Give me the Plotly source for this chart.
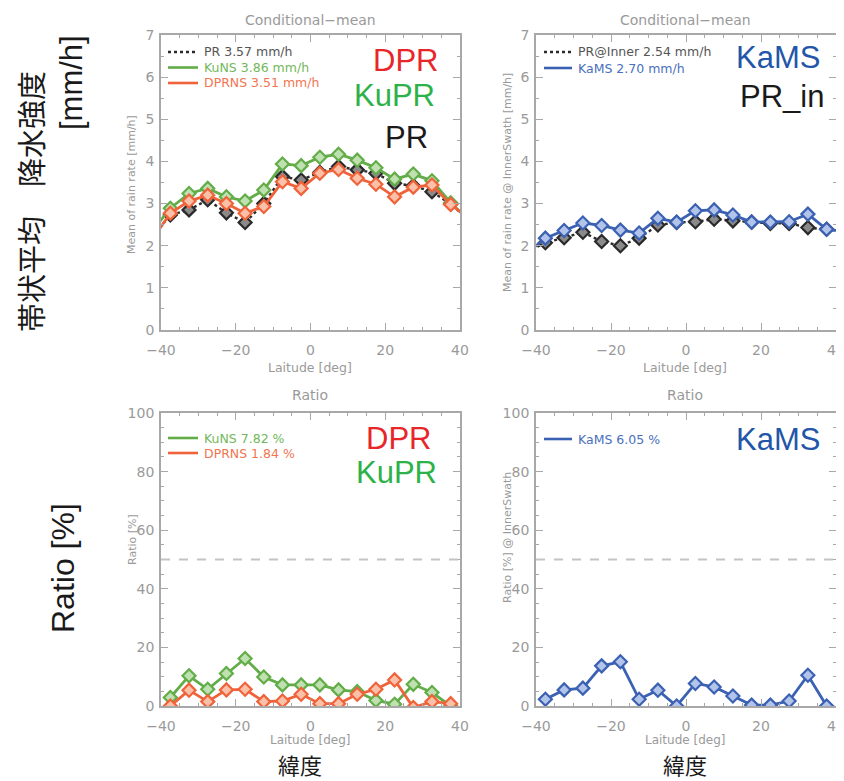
import plotly.graph_objects as go

# page body has an 8px margin: the figure is drawn at (8, 8) in the window
OFF = 8
W, H = 844 - OFF, 781 - OFF

# ---------------- data ----------------
lat_ext = [-42.5, -37.5, -32.5, -27.5, -22.5, -17.5, -12.5, -7.5, -2.5,
           2.5, 7.5, 12.5, 17.5, 22.5, 27.5, 32.5, 37.5, 42.5]
lat = lat_ext[1:-1]

# Conditional mean [mm/h] (top-left)
pr_mean    = [2.20, 2.73, 2.85, 3.09, 2.78, 2.55, 3.00, 3.64, 3.56, 3.74, 3.88, 3.80, 3.72, 3.48, 3.42, 3.28, 2.99, 2.60]
kuns_mean  = [2.33, 2.89, 3.24, 3.36, 3.16, 3.06, 3.32, 3.94, 3.90, 4.10, 4.17, 4.03, 3.85, 3.58, 3.70, 3.54, 3.02, 2.60]
dprns_mean = [2.13, 2.77, 3.06, 3.20, 3.00, 2.77, 2.93, 3.52, 3.36, 3.72, 3.81, 3.60, 3.46, 3.16, 3.39, 3.44, 2.98, 2.64]

# Conditional mean @ inner swath [mm/h] (top-right)
prin_mean  = [1.85, 2.07, 2.19, 2.32, 2.10, 2.00, 2.18, 2.49, 2.55, 2.57, 2.63, 2.59, 2.56, 2.53, 2.53, 2.43, 2.39, 2.34]
kams_mean  = [1.82, 2.18, 2.36, 2.54, 2.48, 2.37, 2.30, 2.65, 2.56, 2.83, 2.85, 2.73, 2.56, 2.56, 2.57, 2.75, 2.39, 2.34]

# Ratio [%] (bottom)
kuns_ratio  = [2.9, 10.3, 5.7, 11.1, 16.2, 9.9, 7.2, 7.2, 7.2, 5.5, 4.9, 1.9, 0.6, 7.4, 4.6, 0.0]
dprns_ratio = [0.0, 5.4, 1.5, 5.5, 5.7, 1.5, 1.7, 4.0, 0.8, 0.8, 4.0, 5.7, 8.9, -0.5, 1.5, 0.8]
kams_ratio  = [2.3, 5.5, 6.1, 13.7, 15.1, 2.3, 5.4, 0.0, 7.7, 6.5, 3.4, 0.3, 0.3, 1.7, 10.5, 0.0]

legend_tl = ["PR 3.57 mm/h", "KuNS 3.86 mm/h", "DPRNS 3.51 mm/h"]
legend_tr = ["PR@Inner 2.54 mm/h", "KaMS 2.70 mm/h"]
legend_bl = ["KuNS 7.82 %", "DPRNS 1.84 %"]
legend_br = ["KaMS 6.05 %"]

x_ticks = [-40, -20, 0, 20, 40]
x_ticktext = ["\u221240", "\u221220", "0", "20", "40"]
y_ticks_mean = [0, 1, 2, 3, 4, 5, 6, 7]
y_ticks_ratio = [0, 20, 40, 60, 80, 100]

# ---------------- styles ----------------
C_BLACK, F_BLACK = "#2a2a2a", "#8a8a8a"
C_GREEN, F_GREEN = "#62ad48", "#bfe0b0"
C_RED, F_RED = "#f0633a", "#fbc0a8"
C_BLUE, F_BLUE = "#3b61b3", "#b3c4ea"
T_BLACK, T_GREEN, T_RED, T_BLUE = "#555555", "#72b85a", "#f27550", "#4a6fbd"
GRAY = "#a8a8a8"
TXT = "#9a9a9a"


def px(x):
    return (x - OFF) / W


def py(y):
    return 1 - (y - OFF) / H


fig = go.Figure()


def line_trace(x, y, color, fill, xa, ya, dash="solid", width=2.8):
    fig.add_trace(go.Scatter(
        x=x, y=y, mode="lines+markers", xaxis=xa, yaxis=ya,
        line=dict(color=color, width=width, dash=dash),
        marker=dict(symbol="diamond", size=10, color=fill,
                    line=dict(color=color, width=2.2)),
        showlegend=False, hoverinfo="skip"))


line_trace(lat_ext, pr_mean, C_BLACK, F_BLACK, "x", "y", dash="dot", width=2.4)
line_trace(lat_ext, kuns_mean, C_GREEN, F_GREEN, "x", "y")
line_trace(lat_ext, dprns_mean, C_RED, F_RED, "x", "y")

line_trace(lat_ext, prin_mean, C_BLACK, F_BLACK, "x2", "y2", dash="dot", width=2.4)
line_trace(lat_ext, kams_mean, C_BLUE, F_BLUE, "x2", "y2")

line_trace(lat, kuns_ratio, C_GREEN, F_GREEN, "x3", "y3")
line_trace(lat, dprns_ratio, C_RED, F_RED, "x3", "y3")

line_trace(lat, kams_ratio, C_BLUE, F_BLUE, "x4", "y4")

# domains (window pixel -> paper)
XD_L = [px(161), px(460)]
XD_R = [px(536), px(836)]
YD_T = [py(330), py(35)]
YD_B = [py(706), py(413)]

tickfont = dict(family="DejaVu Sans", size=14, color=TXT)


def xaxis(domain, anchor):
    return dict(domain=domain, anchor=anchor, range=[-40, 40], automargin=False,
                tickvals=x_ticks, ticktext=x_ticktext, ticklabeloverflow="allow",
                ticklabelstandoff=6,
                ticks="inside", ticklen=7, tickcolor=GRAY, tickwidth=1.2,
                minor=dict(dtick=5, ticks="inside", ticklen=3.5, tickcolor=GRAY),
                showline=True, linecolor=GRAY, linewidth=1.8, mirror="allticks",
                showgrid=False, zeroline=False, tickfont=tickfont)


def yaxis(domain, anchor, rng, vals, mdt):
    return dict(domain=domain, anchor=anchor, range=rng, tickvals=vals, automargin=False,
                ticklabeloverflow="allow", ticklabelstandoff=2,
                ticks="inside", ticklen=7, tickcolor=GRAY, tickwidth=1.2,
                minor=dict(dtick=mdt, ticks="inside", ticklen=3.5, tickcolor=GRAY),
                showline=True, linecolor=GRAY, linewidth=1.8, mirror="allticks",
                showgrid=False, zeroline=False, tickfont=tickfont)


fig.update_layout(
    width=W, height=H, margin=dict(l=0, r=0, t=0, b=0, pad=0, autoexpand=False),
    paper_bgcolor="white", plot_bgcolor="white",
    xaxis=xaxis(XD_L, "y"), yaxis=yaxis(YD_T, "x", [0, 7], y_ticks_mean, 0.5),
    xaxis2=xaxis(XD_R, "y2"), yaxis2=yaxis(YD_T, "x2", [0, 7], y_ticks_mean, 0.5),
    xaxis3=xaxis(XD_L, "y3"), yaxis3=yaxis(YD_B, "x3", [0, 100], y_ticks_ratio, 5),
    xaxis4=xaxis(XD_R, "y4"), yaxis4=yaxis(YD_B, "x4", [0, 100], y_ticks_ratio, 5),
)

shapes = []
annots = []

# 50% dashed reference lines
for xa, ya in (("x3", "y3"), ("x4", "y4")):
    shapes.append(dict(type="line", xref=f"{xa} domain", yref=ya, x0=0, x1=1, y0=50, y1=50,
                       line=dict(color="#c4c4c4", width=2, dash="dash")))


def text(x, y, s, size, color, family="DejaVu Sans", xanchor="center", angle=0, yanchor="middle"):
    annots.append(dict(x=px(x), y=py(y), xref="paper", yref="paper", text=s, showarrow=False,
                       font=dict(family=family, size=size, color=color), xanchor=xanchor,
                       yanchor=yanchor, textangle=angle))


# in-plot legends
def legend(x0, x1, y0, dy, labels, colors, tcolors, dashes):
    for i, (lab, col, tc, d) in enumerate(zip(labels, colors, tcolors, dashes)):
        y = y0 + i * dy
        shapes.append(dict(type="line", xref="paper", yref="paper", x0=px(x0), x1=px(x1),
                           y0=py(y), y1=py(y), line=dict(color=col, width=2.6, dash=d)))
        text(x1 + 4, y, lab, 12.5, tc, xanchor="left")


legend(168, 198, 52, 15.5, legend_tl, [C_BLACK, C_GREEN, C_RED], [T_BLACK, T_GREEN, T_RED],
       ["dot", "solid", "solid"])
legend(544, 572, 52, 16, legend_tr, [C_BLACK, C_BLUE], [T_BLACK, T_BLUE], ["dot", "solid"])
legend(168, 198, 438, 15, legend_bl, [C_GREEN, C_RED], [T_GREEN, T_RED], ["solid", "solid"])
legend(544, 572, 439, 15, legend_br, [C_BLUE], [T_BLUE], ["solid"])

# panel titles
for cx in (310, 685):
    text(cx, 20, "Conditional\u2212mean", 14, TXT)
    text(cx, 395, "Ratio", 14, TXT)

# axis titles
text(310, 367, "Laitude [deg]", 12.5, TXT)
text(685, 367, "Laitude [deg]", 12.5, TXT)
text(310, 740, "Laitude [deg]", 12, TXT)
text(685, 740, "Laitude [deg]", 12, TXT)
text(132, 185, "Mean of rain rate [mm/h]", 11, TXT, angle=-90)
text(507, 183, "Mean of rain rate @ InnerSwath [mm/h]", 11, TXT, angle=-90)
text(132, 540, "Ratio [%]", 11, TXT, angle=-90)
text(507, 538, "Ratio [%] @ InnerSwath", 11, TXT, angle=-90)

# crop of the bottom axis titles
shapes.append(dict(type="rect", xref="paper", yref="paper", x0=0, x1=1, y0=0, y1=py(744),
                   fillcolor="white", line=dict(width=0), layer="above"))

# big colored labels
BIG = "Liberation Sans"
text(405, 60, "DPR", 31, "#e8262a", BIG)
text(394, 96, "KuPR", 31, "#2db24a", BIG)
text(406, 137, "PR", 31, "#1a1a1a", BIG)
text(778, 58, "KaMS", 31, "#2356a8", BIG)
text(782, 97, "PR_in", 31, "#1a1a1a", BIG)
text(398, 438, "DPR", 31, "#e8262a", BIG)
text(396, 472, "KuPR", 31, "#2db24a", BIG)
text(778, 439, "KaMS", 31, "#2356a8", BIG)

# outer labels
CJK = "Noto Sans CJK JP"
text(30, 202, "帯状平均　降水強度", 29, "#1a1a1a", CJK, angle=-90)
text(72, 83, "[mm/h]", 31, "#1a1a1a", BIG, angle=-90)
text(63, 568, "Ratio [%]", 32, "#1a1a1a", BIG, angle=-90)
text(300, 764, "緯度", 22, "#1a1a1a", CJK)
text(685, 764, "緯度", 22, "#1a1a1a", CJK)

fig.update_layout(shapes=shapes, annotations=annots)
fig.write_html("out.html")
